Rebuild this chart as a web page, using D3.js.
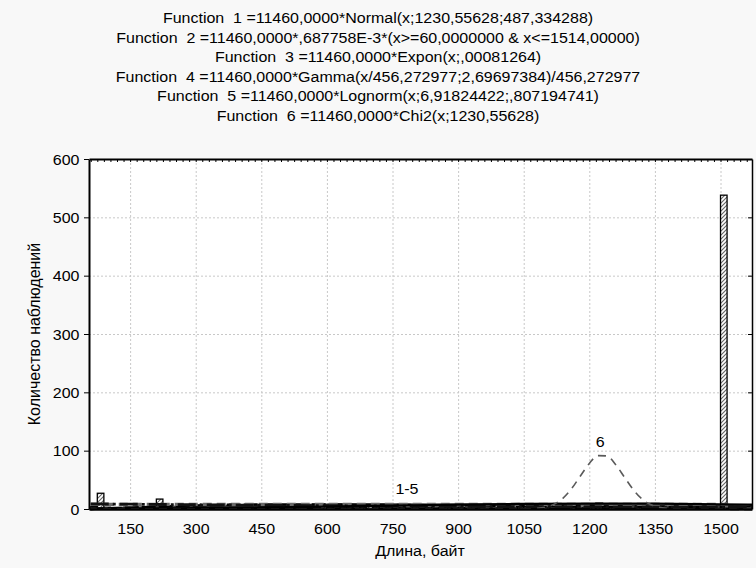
<!DOCTYPE html>
<html>
<head>
<meta charset="utf-8">
<script src="https://cdn.jsdelivr.net/npm/d3@7/dist/d3.min.js"></script>
<style>
  body { margin: 0; background: #f8f8f8; }
  svg { display: block; }
  text { font-family: Arial, "Liberation Sans", sans-serif; fill: #000; white-space: pre; }
</style>
</head>
<body>
<svg id="chart" width="756" height="568"></svg>
<script>
// ---- data ----
const titleLines = [
  "Function  1 =11460,0000*Normal(x;1230,55628;487,334288)",
  "Function  2 =11460,0000*,687758E-3*(x>=60,0000000 & x<=1514,00000)",
  "Function  3 =11460,0000*Expon(x;,00081264)",
  "Function  4 =11460,0000*Gamma(x/456,272977;2,69697384)/456,272977",
  "Function  5 =11460,0000*Lognorm(x;6,91824422;,807194741)",
  "Function  6 =11460,0000*Chi2(x;1230,55628)"
];
const xLabel = "Длина, байт";
const yLabel = "Количество наблюдений";

// histogram: bins of 15 bytes starting at 60
const binStart = 60;
const binWidth = 15;
const counts = [
  4, 27, 3, 2, 1, 3, 2, 1, 3, 4,
  17, 3, 2, 3, 2, 4, 3, 2, 3, 3,
  4, 6, 3, 4, 3, 2, 4, 3, 3, 2,
  3, 4, 3, 2, 3, 4, 3, 2, 3, 3,
  2, 3, 4, 3, 2, 3, 2, 3, 2, 3,
  2, 3, 2, 2, 3, 2, 3, 2, 2, 3,
  2, 2, 3, 2, 2, 3, 2, 2, 2, 3,
  2, 2, 2, 3, 2, 2, 3, 10, 2, 3,
  2, 2, 2, 3, 2, 2, 2, 2, 2, 3,
  2, 2, 2, 2, 2, 3, 538, 2, 1, 2,
  1
];

const xTicks = [150, 300, 450, 600, 750, 900, 1050, 1200, 1350, 1500];
const yTicks = [0, 100, 200, 300, 400, 500, 600];
const gridY = [100, 200, 300, 400, 500];

// fitted curves (sampled)
const fx = [60, 150, 300, 450, 600, 750, 900, 1050, 1200, 1350, 1500, 1572];
const f1 = [0.53, 0.80, 1.51, 2.60, 4.07, 5.78, 7.46, 8.77, 9.37, 9.11, 8.06, 7.30];
const f2x = [60, 1514, 1514, 1572];
const f2 = [7.88, 7.88, 0, 0];
const f3 = [8.87, 8.24, 7.30, 6.46, 5.72, 5.06, 4.47, 3.97, 3.51, 3.11, 2.75, 2.59];
const f4 = [0.46, 1.78, 4.14, 5.93, 6.96, 7.31, 7.18, 6.71, 6.06, 5.33, 4.58, 4.24];
const f5 = [0.21, 2.32, 6.09, 7.62, 7.67, 7.05, 6.23, 5.39, 4.61, 3.93, 3.35, 3.10];
const f6x = [56, 1040, 1060, 1080, 1100, 1120, 1140, 1160, 1180, 1200, 1220, 1240,
             1260, 1280, 1300, 1320, 1340, 1360, 1380, 1400, 1420, 1572];
const f6 = [0, 0.1, 0.3, 1.0, 3.2, 8.4, 18.7, 35.4, 57.0, 78.1, 91.5, 91.0,
            76.4, 54.9, 33.7, 17.4, 7.6, 2.8, 0.9, 0.3, 0.1, 0];

// ---- layout ----
const svg = d3.select("#chart");
const L = 89, R = 752, T = 159, B = 509;
const x = d3.scaleLinear().domain([56, 1572]).range([L, R]);
const y = d3.scaleLinear().domain([0, 600]).range([B, T]);
const SY = 0.875; // vertical squeeze of lettering

function label(g, px, py, str, anchor) {
  return g.append("text")
    .attr("transform", `translate(${px},${py}) scale(1,${SY})`)
    .attr("text-anchor", anchor || "middle")
    .attr("font-size", 16)
    .text(str);
}

// title
titleLines.forEach((s, i) => label(svg, 378, 23 + i * 19.6, s));

// plot background
svg.append("rect").attr("x", L).attr("y", T).attr("width", R - L).attr("height", B - T)
  .attr("fill", "#fff");

// hatch pattern for bars
const defs = svg.append("defs");
const pat = defs.append("pattern").attr("id", "hatch")
  .attr("patternUnits", "userSpaceOnUse").attr("width", 4).attr("height", 4);
pat.append("rect").attr("width", 4).attr("height", 4).attr("fill", "#fff");
pat.append("path").attr("d", "M-1,1 L1,-1 M0,4 L4,0 M3,5 L5,3")
  .attr("stroke", "#666").attr("stroke-width", 1.1);
defs.append("clipPath").attr("id", "plotclip")
  .append("rect").attr("x", L).attr("y", T - 2).attr("width", R - L).attr("height", B - T + 4);

// grid lines
const grid = svg.append("g");
grid.append("g").attr("transform", `translate(0,${B})`)
  .call(d3.axisBottom(x).tickValues(xTicks).tickSize(-(B - T)).tickFormat(""))
  .call(g => g.select(".domain").remove())
  .call(g => g.selectAll("line").attr("stroke", "#c8c8c8").attr("stroke-dasharray", "2,2"));
grid.append("g").attr("transform", `translate(${L},0)`)
  .call(d3.axisLeft(y).tickValues(gridY).tickSize(-(R - L)).tickFormat(""))
  .call(g => g.select(".domain").remove())
  .call(g => g.selectAll("line").attr("stroke", "#c8c8c8").attr("stroke-dasharray", "2,2"));

const plot = svg.append("g").attr("clip-path", "url(#plotclip)");

// histogram bars
const bins = counts.map((c, i) => ({ lo: binStart + i * binWidth, hi: binStart + (i + 1) * binWidth, c }));
plot.append("g").selectAll("rect").data(bins).join("rect")
  .attr("x", d => x(d.lo))
  .attr("width", d => x(d.hi) - x(d.lo))
  .attr("y", d => y(d.c))
  .attr("height", d => y(0) - y(d.c))
  .attr("fill", "url(#hatch)")
  .attr("stroke", "#000")
  .attr("stroke-width", 1.3);

// fitted curves
function drawCurve(xs, ys, color, width, dash) {
  const gen = d3.line().x(d => x(d[0])).y(d => y(d[1])).curve(d3.curveMonotoneX);
  plot.append("path")
    .attr("d", gen(xs.map((v, i) => [v, ys[i]])))
    .attr("fill", "none")
    .attr("stroke", color)
    .attr("stroke-width", width)
    .attr("stroke-dasharray", dash || null);
}
drawCurve(fx, f4, "#3a3a3a", 2.8, null);
drawCurve(fx, f5, "#000", 2.5, "14,3");
drawCurve(f2x, f2, "#6a6a6a", 3.2, "9,5");
drawCurve(fx, f3, "#111", 2.8, "18,4,3,4");
drawCurve(fx, f1, "#000", 2.3, null);
drawCurve(f6x, f6, "#5a5a5a", 1.6, "8,6");

// curve labels
label(svg, x(783), y(25), "1-5");
label(svg, x(1225), y(107), "6");

// axes
const axStyle = g => g.selectAll("path, line").attr("stroke", "#000");
// top: small ticks at bin edges
const edges = d3.range(counts.length + 1).map(i => binStart + i * binWidth).filter(v => v <= 1572);
svg.append("g").attr("transform", `translate(0,${T})`)
  .call(d3.axisTop(x).tickValues(edges).tickSize(-3).tickSizeOuter(0).tickFormat(""))
  .call(axStyle)
  .call(g => g.select(".domain").attr("stroke-width", 2));
// right
svg.append("g").attr("transform", `translate(${R},0)`)
  .call(d3.axisRight(y).tickValues(yTicks).tickSize(-4).tickSizeOuter(0).tickFormat(""))
  .call(axStyle)
  .call(g => g.select(".domain").attr("stroke-width", 1.5));
// left
const ax = svg.append("g").attr("transform", `translate(${L},0)`)
  .call(d3.axisLeft(y).tickValues(yTicks).tickSize(5).tickSizeOuter(0).tickFormat(d3.format("d")))
  .call(axStyle)
  .call(g => g.select(".domain").attr("stroke-width", 2));
ax.selectAll(".tick text")
  .attr("x", null).attr("dy", null)
  .attr("font-size", 16).attr("font-family", null)
  .attr("text-anchor", "end")
  .attr("transform", `translate(-9.5,5) scale(1,${SY})`);
// bottom
const bx = svg.append("g").attr("transform", `translate(0,${B})`)
  .call(d3.axisBottom(x).tickValues(xTicks).tickSize(0).tickSizeOuter(0).tickFormat(d3.format("d")))
  .call(axStyle)
  .call(g => g.select(".domain").attr("stroke-width", 2.5));
bx.selectAll(".tick text")
  .attr("y", null).attr("dy", null)
  .attr("font-size", 16).attr("font-family", null)
  .attr("transform", `translate(0,24.5) scale(1,${SY})`);

// axis titles
label(svg, 420, 556, xLabel);
svg.append("text")
  .attr("transform", `translate(40,334) rotate(-90)`)
  .attr("text-anchor", "middle")
  .attr("font-size", 16)
  .text(yLabel);
</script>
</body>
</html>
